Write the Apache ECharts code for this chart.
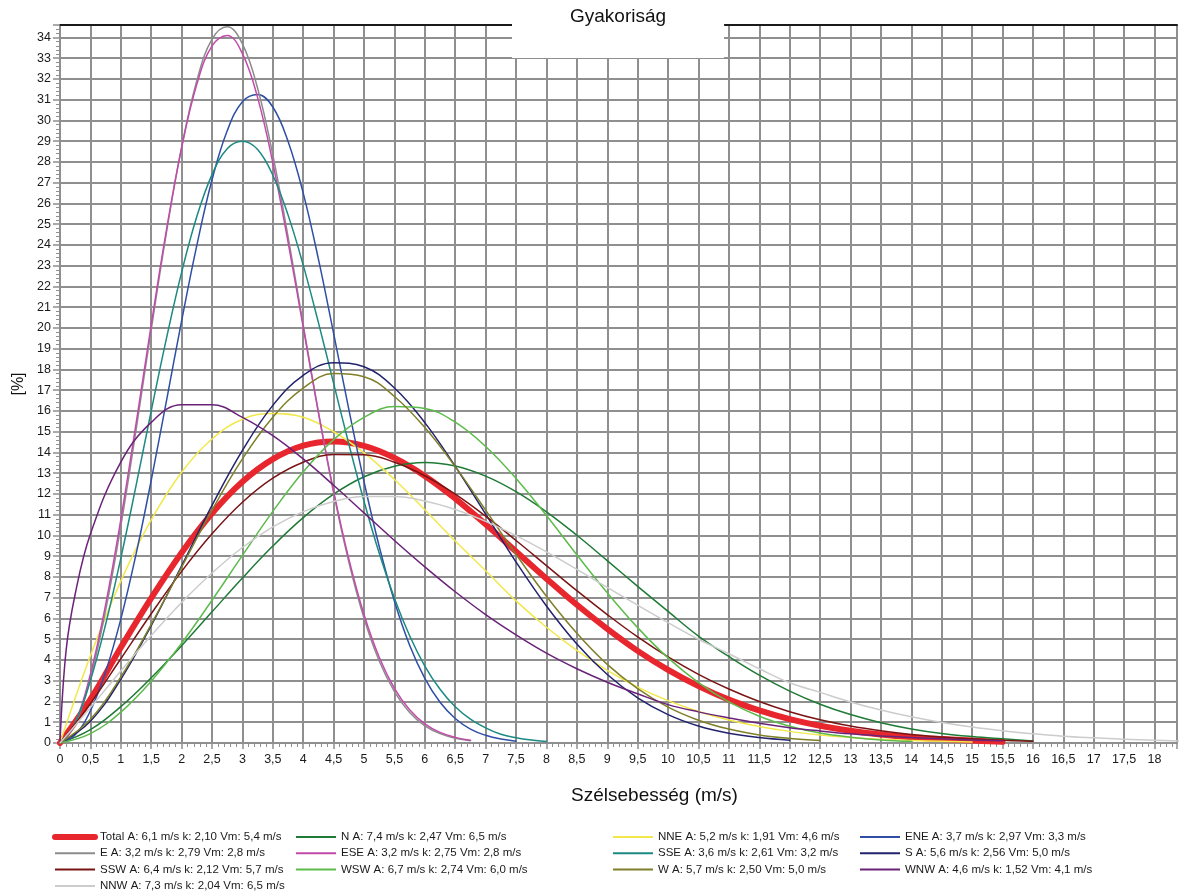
<!DOCTYPE html>
<html>
<head>
<meta charset="utf-8">
<script src="https://cdn.jsdelivr.net/npm/echarts@6/dist/echarts.min.js"></script>
<style>
html,body{margin:0;padding:0;background:#fff;}
#chart{width:1180px;height:894px;}
</style>
</head>
<body>
<div id="chart"></div>
<script>
// Wind speed sample points (m/s)
const speeds = [0,0.5,1,1.5,2,2.5,3,3.5,4,4.5,5,5.5,6,6.5,7,7.5,8,8.5,9,9.5,10,10.5,11,11.5,12,12.5,13,13.5,14,14.5,15,15.5,16,16.5,17,17.5,18,18.5];
const speedsFine = [0,0.25,0.5,0.75,1,1.25,1.5,1.75,2,2.25,2.5,2.75,3,3.25,3.5,3.75,4,4.25,4.5,4.75,5,5.25,5.5,5.75,6,6.25,6.5,6.75,7,7.25,7.5,7.75,8];
const speedsWnw = [0,0.1,0.25,0.5,1,1.5,2,2.5,3,3.5,4,4.5,5,5.5,6,6.5,7,7.5,8,8.5,9,9.5,10,10.5,11,11.5,12,12.5,13,13.5,14,14.5,15,15.5];

// Frequency (%) per direction
const totalVals = [0,2.1,4.6,6.98,9.17,11.07,12.59,13.68,14.33,14.53,14.32,13.74,12.87,11.78,10.54,9.23,7.92,6.66,5.50,4.44,3.52,2.74,2.09,1.57,1.15,0.83,0.59,0.41,0.28,0.19,0.12,0.06];
const nVals = [0,0.64,1.75,3.14,4.69,6.32,7.95,9.49,10.86,11.99,12.83,13.34,13.52,13.35,12.86,12.11,11.14,10.01,8.79,7.55,6.34,5.15,4.17,3.27,2.50,1.87,1.37,0.98,0.68,0.46,0.31,0.20,0.10];
const nneVals = [0,4.2,7.8,10.75,13.05,14.65,15.6,15.88,15.7,15.0,13.98,12.7,11.24,9.73,8.3,6.85,5.58,4.46,3.50,2.69,2.04,1.52,1.11,0.80,0.56,0.39,0.27,0.18,0.12,0.08,0.05];
const eneVals = [0,0.40,1.55,3.43,5.97,9.09,12.66,16.48,20.34,23.98,27.14,29.5,30.9,31.25,30.65,29.0,26.5,23.32,19.74,16.08,12.59,9.47,6.83,4.71,3.11,1.96,1.18,0.67,0.37,0.19,0.09];
const eVals = [0,0.91,3.13,6.38,10.45,15.07,19.92,24.58,28.71,31.92,33.92,34.52,33.69,31.55,28.34,24.41,20.16,15.95,12.05,8.72,6.01,3.95,2.48,1.47,0.83,0.45,0.23,0.11];
const eseVals = [0,0.99,3.32,6.66,10.77,15.38,20.15,24.72,28.68,31.74,33.59,34.10,33.22,31.10,27.96,24.15,20.03,15.92,12.14,8.87,6.19,4.13,2.63,1.60,0.92,0.51,0.27,0.13];
const sseVals = [0,0.99,3.01,5.71,8.90,12.39,16.00,19.49,22.68,25.37,27.39,28.64,29.0,28.60,27.36,25.45,23.03,20.26,17.33,14.41,11.65,9.14,6.98,5.17,3.71,2.59,1.75,1.15,0.73,0.42,0.25,0.14,0.07];
const sVals = [0,1.05,3.07,5.66,8.54,11.45,14.10,16.27,17.72,18.33,18.13,17.11,15.44,13.33,11.03,8.72,6.60,4.77,3.30,2.18,1.37,0.82,0.47,0.26,0.13];
const sswVals = [0,1.90,4.06,6.23,8.27,10.08,11.60,12.76,13.53,13.90,13.89,13.53,12.88,11.99,10.93,9.76,8.55,7.34,6.19,5.11,4.15,3.31,2.60,2.00,1.51,1.12,0.82,0.59,0.41,0.29,0.20,0.13,0.08];
const wswVals = [0,0.45,1.49,2.98,4.81,6.88,9.04,11.16,13.07,14.62,15.69,16.21,16.12,15.46,14.29,12.75,10.96,9.07,7.24,5.56,4.10,2.91,1.98,1.29,0.81,0.48,0.28,0.15,0.08];
const wVals = [0,1.14,3.18,5.72,8.47,11.22,13.69,15.70,17.1,17.8,17.65,16.7,15.20,13.32,11.22,9.09,7.07,5.29,3.79,2.62,1.73,1.10,0.67,0.39,0.22,0.12];
const wnwVals = [0,4.45,7.18,10.07,13.54,15.45,16.3,16.3,15.69,14.81,13.69,12.42,11.09,9.76,8.49,7.29,6.19,5.21,4.33,3.58,2.93,2.37,1.85,1.50,1.21,0.95,0.74,0.58,0.44,0.34,0.26,0.20,0.15,0.11];
const nnwVals = [0,1.71,3.47,5.18,6.77,8.19,9.42,10.41,11.15,11.64,11.88,11.88,11.66,11.25,10.68,9.99,9.21,8.37,7.50,6.64,5.80,5.00,4.30,3.58,2.90,2.44,1.98,1.59,1.26,0.99,0.77,0.59,0.44,0.33,0.25,0.18,0.13,0.09];

// Legend labels
const labels = [
  'Total A: 6,1 m/s k: 2,10 Vm: 5,4 m/s',
  'N A: 7,4 m/s k: 2,47 Vm: 6,5 m/s',
  'NNE A: 5,2 m/s k: 1,91 Vm: 4,6 m/s',
  'ENE A: 3,7 m/s k: 2,97 Vm: 3,3 m/s',
  'E A: 3,2 m/s k: 2,79 Vm: 2,8 m/s',
  'ESE A: 3,2 m/s k: 2,75 Vm: 2,8 m/s',
  'SSE A: 3,6 m/s k: 2,61 Vm: 3,2 m/s',
  'S A: 5,6 m/s k: 2,56 Vm: 5,0 m/s',
  'SSW A: 6,4 m/s k: 2,12 Vm: 5,7 m/s',
  'WSW A: 6,7 m/s k: 2,74 Vm: 6,0 m/s',
  'W A: 5,7 m/s k: 2,50 Vm: 5,0 m/s',
  'WNW A: 4,6 m/s k: 1,52 Vm: 4,1 m/s',
  'NNW A: 7,3 m/s k: 2,04 Vm: 6,5 m/s'
];
const colors = ['#e8262d','#1f7a35','#f2e84b','#2f4fa6','#8c8c8c','#c34aaa','#1b8a82','#22226e','#7a1414','#5dbb4b','#7f7f2a','#6b2379','#cccccc'];
const valueSets = [totalVals,nVals,nneVals,eneVals,eVals,eseVals,sseVals,sVals,sswVals,wswVals,wVals,wnwVals,nnwVals];
const xSets = [speeds,speeds,speeds,speedsFine,speedsFine,speedsFine,speedsFine,speeds,speeds,speeds,speeds,speedsWnw,speeds];

const FONT = '"Liberation Sans", Arial, sans-serif';
const gridColor = '#8f8f8f';

const series = labels.map((name, i) => ({
  name: name,
  type: 'line',
  xAxisIndex: 0,
  yAxisIndex: 0,
  symbol: 'none',
  smooth: 0.4,
  color: colors[i],
  lineStyle: { color: colors[i], width: i === 0 ? 6 : 1.5, cap: 'round', join: 'round' },
  data: valueSets[i].map((v, j) => [xSets[i][j], v]),
  animation: false
}));

function legendCol(left, idx) {
  return {
    orient: 'vertical',
    left: left,
    top: 831,
    padding: 0,
    itemWidth: 40,
    itemHeight: 12,
    itemGap: 4.3,
    selectedMode: false,
    itemStyle: { opacity: 0 },
    textStyle: { fontFamily: FONT, fontSize: 11.5, color: '#1a1a1a', lineHeight: 12 },
    data: idx.map(k => ({
      name: labels[k],
      lineStyle: { color: colors[k], width: k === 0 ? 6 : 2, cap: k === 0 ? 'round' : 'butt' }
    }))
  };
}

const chart = echarts.init(document.getElementById('chart'));
chart.setOption({
  backgroundColor: '#ffffff',
  animation: false,
  title: {
    text: 'Gyakoriság',
    left: 512,
    top: 0,
    padding: [7, 58, 32, 58],
    backgroundColor: '#ffffff',
    z: 200,
    textStyle: { fontFamily: FONT, fontSize: 19, fontWeight: 'normal', color: '#111', lineHeight: 19 }
  },
  grid: { left: 60, right: 0, top: 25, bottom: 151, containLabel: false },
  legend: [
    legendCol(52, [0, 4, 8, 12]),
    legendCol(295, [1, 5, 9]),
    legendCol(612, [2, 6, 10]),
    legendCol(859, [3, 7, 11])
  ],
  xAxis: [{
    type: 'value',
    position: 'bottom',
    min: 0, max: 18.37, interval: 0.5,
    name: 'Szélsebesség (m/s)',
    nameLocation: 'middle',
    nameGap: 43,
    nameTextStyle: { fontFamily: FONT, fontSize: 19, color: '#111', padding: [0, 0, 0, 72] },
    axisLine: { show: true, onZero: false, lineStyle: { color: gridColor, width: 2 } },
    axisTick: { show: true, length: 6, lineStyle: { color: gridColor, width: 1.5 } },
    minorTick: { show: true, splitNumber: 5, length: 4, lineStyle: { color: gridColor, width: 1 } },
    axisLabel: {
      fontFamily: FONT, fontSize: 12.5, color: '#1a1a1a', margin: 10,
      formatter: v => { const r = Math.round(v * 2) / 2; return (Math.abs(v - r) < 1e-6 && v < 18.2) ? String(r).replace('.', ',') : ''; }
    },
    splitLine: { show: true, lineStyle: { color: gridColor, width: 2 } }
  }, {
    type: 'value',
    position: 'top',
    min: 0, max: 18.37,
    axisLine: { show: true, onZero: false, lineStyle: { color: '#1a1a1a', width: 2 } },
    axisTick: { show: false },
    axisLabel: { show: false },
    splitLine: { show: false }
  }],
  yAxis: {
    type: 'value',
    min: 0, max: 34.6, interval: 1,
    name: '[%]',
    nameLocation: 'middle',
    nameRotate: 90,
    nameGap: 33,
    nameTextStyle: { fontFamily: FONT, fontSize: 16, color: '#111' },
    axisLine: { show: true, onZero: false, lineStyle: { color: gridColor, width: 2 } },
    axisTick: { show: true, length: 7, lineStyle: { color: gridColor, width: 1.5 } },
    minorTick: { show: true, splitNumber: 5, length: 4, lineStyle: { color: gridColor, width: 1 } },
    axisLabel: {
      fontFamily: FONT, fontSize: 12.5, color: '#1a1a1a', margin: 9,
      formatter: v => Math.abs(v - Math.round(v)) < 1e-6 ? String(Math.round(v)) : ''
    },
    splitLine: { show: true, lineStyle: { color: gridColor, width: 2 } }
  },
  series: series
});
</script>
</body>
</html>
